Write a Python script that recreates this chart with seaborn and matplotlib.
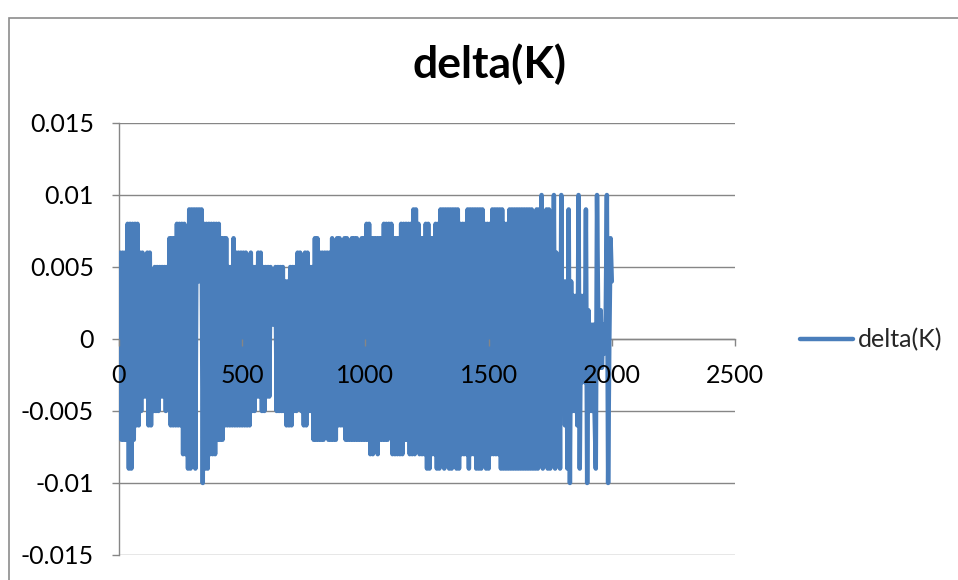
import numpy as np
import pandas as pd
import matplotlib
matplotlib.use("Agg")
import matplotlib.pyplot as plt
import seaborn as sns
from matplotlib.patches import Rectangle

title = "delta(K)"
series_name = "delta(K)"
x_ticks = [0, 500, 1000, 1500, 2000, 2500]
x_tick_labels = ["0", "500", "1000", "1500", "2000", "2500"]
y_ticks = [-0.015, -0.01, -0.005, 0, 0.005, 0.01, 0.015]
y_tick_labels = ["-0.015", "-0.01", "-0.005", "0", "0.005", "0.01", "0.015"]

# sample number of each reading
sample = list(range(5, 2001, 5))

# readings in mK, twenty per row (100 samples per row)
delta_mk = [
    6, -7, 6, -7, 6, -7, 8, -9, 8, -9, 8, -7, 8, -6, 8, -6, 6, -5, 6, -4,
    5, -4, 6, -6, 6, -6, 3, -5, 5, -5, 5, -5, 5, -4, 5, -4, 5, -5, 5, -4,
    7, -6, 7, -6, 7, -6, 8, -6, 8, -6, 8, -8, 8, -8, 7, -9, 9, -9, 9, -8,
    9, -9, 9, 4, 9, 4, 9, -10, 8, -9, 8, -9, 8, -8, 8, -8, 8, -8, 8, -7,
    8, -7, 7, -7, 7, -6, 7, -6, 5, -6, 5, -6, 7, -6, 6, -6, 6, -6, 6, -6,
    6, -6, 6, -6, 5, -6, 6, -5, 5, -5, 5, -4, 6, -4, 6, -5, 5, -5, 5, -4,
    5, -4, 5, 1, 3, 1, 5, -5, 5, -5, 5, -5, 5, -5, 4, -6, 4, -6, 5, -6,
    5, -5, 5, -5, 6, -4, 6, -5, 5, -6, 6, -6, 6, -5, 5, -5, 5, -7, 7, -7,
    7, -7, 6, -7, 6, -7, 6, -6, 6, -7, 6, -7, 7, -7, 6, -7, 7, -6, 7, -6,
    6, -6, 7, -7, 7, -7, 6, -7, 7, -7, 7, -7, 7, -7, 6, -7, 7, -7, 7, -7,
    8, -7, 8, -8, 7, -8, 7, -7, 7, -8, 7, -7, 7, -7, 8, -7, 8, -7, 8, -5,
    8, -8, 7, -8, 7, -8, 7, -8, 8, -8, 8, -7, 8, -7, 8, -8, 8, -8, 9, -8,
    9, -7, 8, -8, 7, -8, 7, -8, 8, -9, 8, -9, 7, -8, 7, -8, 8, -9, 8, -9,
    9, -8, 9, -9, 9, -8, 9, -9, 9, -9, 9, -8, 9, -9, 9, -9, 8, -8, 8, -8,
    8, -8, 9, -9, 9, -8, 9, -8, 9, -9, 9, -9, 9, -9, 9, -8, 8, -9, 8, -9,
    8, -8, 9, -8, 9, -8, 9, -8, 9, -9, 9, -9, 8, -9, 8, -9, 9, -9, 9, -9,
    9, -9, 9, -9, 9, -9, 9, -9, 9, -9, 9, -9, 9, -9, 9, -9, 8, -9, 9, -9,
    9, -7, 10, -9, 8, -8, 9, -9, 9, -9, 7, -7, 10, -9, 6, -5, 5, -9, 10, -5,
    4, -6, 4, -9, 9, -10, 4, -5, 3, -5, 3, -6, 10, -9, 3, -3, 3, -3, 9, -10,
    2, -5, 1, -5, 1, -5, -9, 10, 1, -2, 2, -2, 1, -1, 1, 10, -10, 0, 7, 4,
]

df = pd.DataFrame({"sample": sample, "delta": np.array(delta_mk) / 1000.0})

sns.set_style("white")
plt.rcParams["font.family"] = ["Lato", "DejaVu Sans"]

W, H = 958, 580
fig = plt.figure(figsize=(W / 100, H / 100), dpi=100)
fig.patch.set_facecolor("white")

# plot area in pixels: x 119..735, y 123..555
ax = fig.add_axes([119 / W, (H - 555) / H, (735 - 119) / W, (555 - 123) / H])

line_color = "#4a7ebb"
grid_color = "#868686"
label_size = 18

sns.lineplot(data=df, x="sample", y="delta", ax=ax, color=line_color,
             linewidth=3.2, label=series_name, sort=False, estimator=None,
             solid_capstyle="round", solid_joinstyle="round", zorder=3)

ax.set_xlim(0, 2500)
ax.set_ylim(-0.015, 0.015)
ax.set_xticks(x_ticks)
ax.set_xticklabels(x_tick_labels)
ax.set_yticks(y_ticks)
ax.set_yticklabels(y_tick_labels)
ax.set_xlabel("")
ax.set_ylabel("")

ax.yaxis.grid(True, color=grid_color, linewidth=1)
ax.xaxis.grid(False)
ax.set_axisbelow(True)
# category labels on the zero line sit on top of the series
ax.xaxis.set_zorder(4)

for side in ("top", "right"):
    ax.spines[side].set_visible(False)
ax.spines["left"].set_color(grid_color)
ax.spines["left"].set_linewidth(1)
ax.spines["bottom"].set_position(("data", 0))
ax.spines["bottom"].set_color(grid_color)
ax.spines["bottom"].set_linewidth(1)
ax.spines["bottom"].set_zorder(1)

ax.tick_params(axis="y", direction="out", length=5, width=1, color=grid_color,
               pad=13, labelsize=label_size, labelcolor="black", left=True)
ax.tick_params(axis="x", direction="out", length=5, width=1, color=grid_color,
               pad=13, labelsize=label_size, labelcolor="black", bottom=True)

leg = ax.legend(loc="center left", bbox_to_anchor=(800 / W, 1 - 340 / H),
                bbox_transform=fig.transFigure, frameon=False,
                fontsize=label_size, handlelength=2.1, handletextpad=0.2,
                borderpad=0, borderaxespad=0)
for h in leg.get_lines():
    h.set_linewidth(3.2)
    h.set_solid_capstyle("round")

fig.text(490 / W, 1 - 78 / H, title, ha="center", va="baseline",
         fontsize=32, fontweight="bold", color="black")

# chart frame
fig.patches.append(Rectangle((9 / W, -0.05), 1.2, (1 - 18 / H) + 0.05,
                             transform=fig.transFigure, fill=False,
                             edgecolor="#8c8c8c", linewidth=1.2))

fig.savefig("out.png", dpi=100)
